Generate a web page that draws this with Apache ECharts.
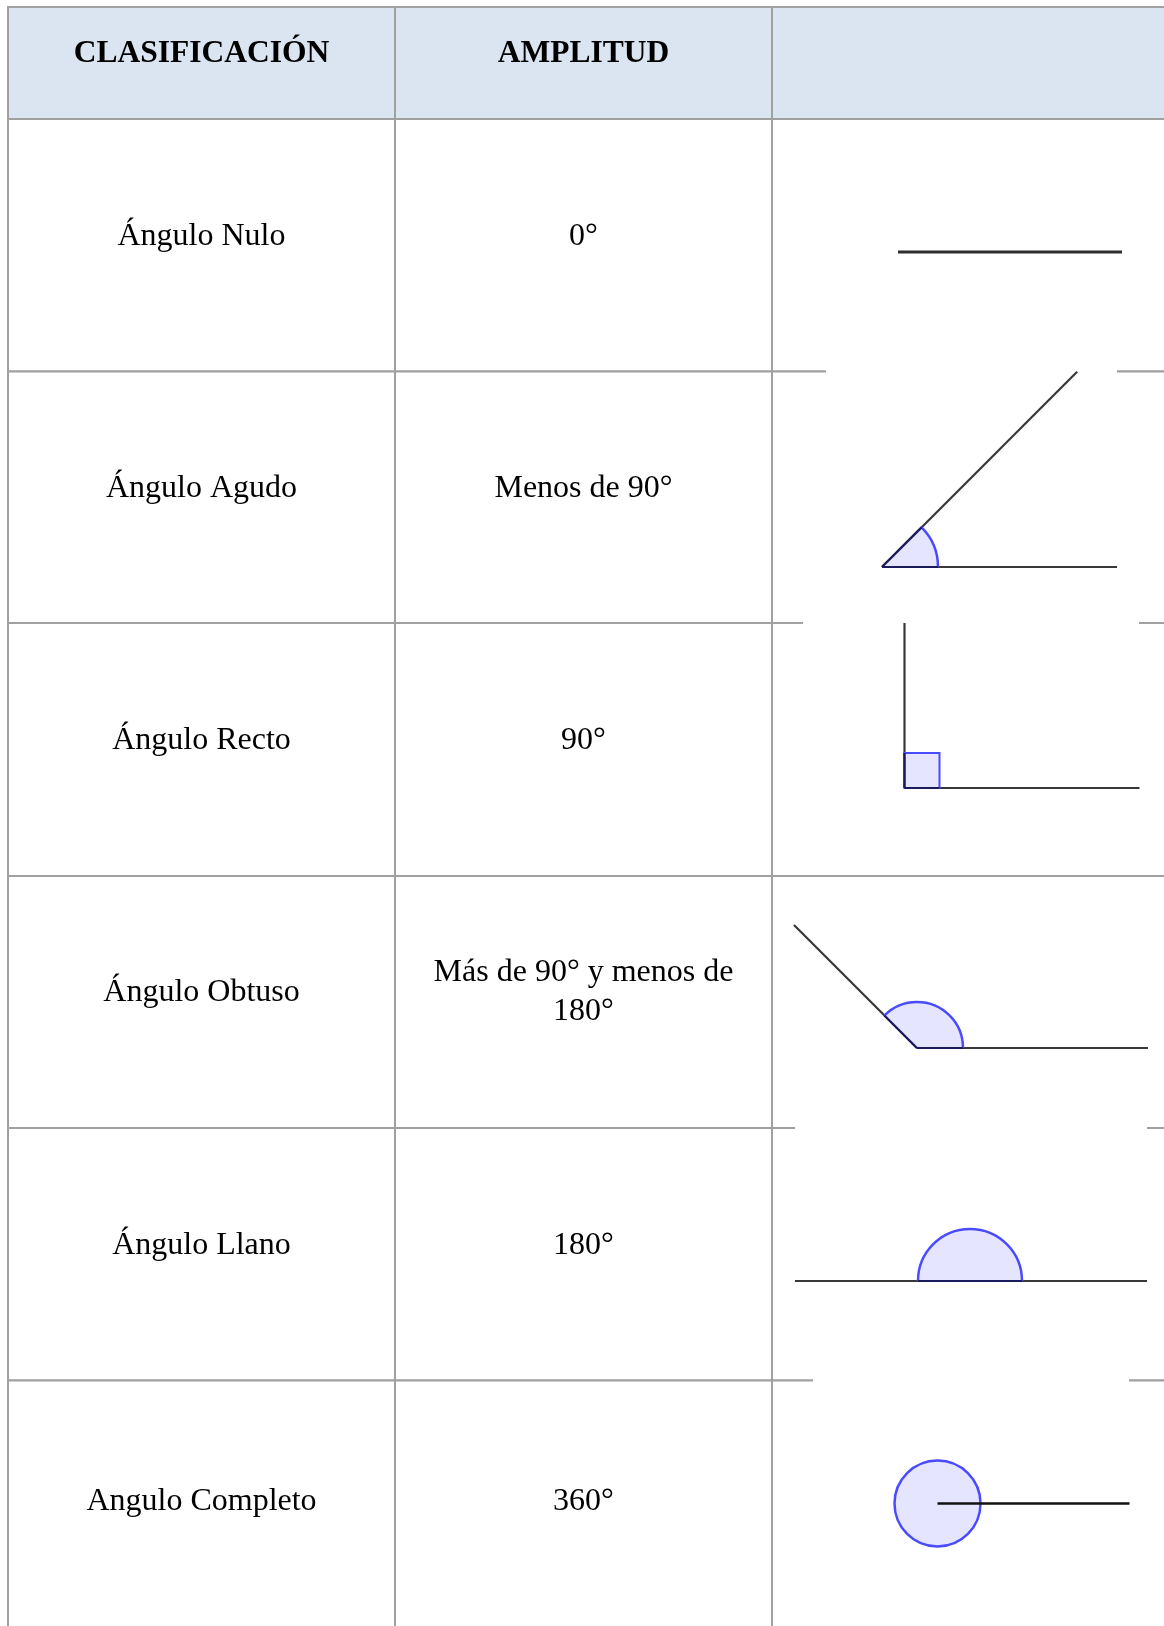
<!DOCTYPE html>
<html>
<head>
<meta charset="utf-8">
<script src="https://cdn.jsdelivr.net/npm/echarts@6/dist/echarts.min.js"></script>
<style>
  html, body { margin: 0; padding: 0; background: #fff; }
  #chart { width: 1164px; height: 1626px; }
</style>
</head>
<body>
<div id="chart"></div>
<script>
// datos de la tabla
var encabezados = ['CLASIFICACIÓN', 'AMPLITUD', ''];
var clasificaciones = ['Ángulo Nulo', 'Ángulo Agudo', 'Ángulo Recto', 'Ángulo Obtuso', 'Ángulo Llano', 'Angulo Completo'];
var amplitudes = ['0°', 'Menos de 90°', '90°', 'Más de 90° y menos de\n180°', '180°', '360°'];
var angulos = [0, 45, 90, 135, 180, 360];

// maquetación (px)
var colX = [8, 395, 772, 1200];
var rowY = [7, 119, 371.5, 623, 876, 1128, 1380.5, 1640];
var dibujos = [
    {vx: 898, vy: 252, len: 224, len2: 224, r: 0, img: null},
    {vx: 882, vy: 567, len: 235, len2: 276, r: 56, img: [826, 1117]},
    {vx: 904.5, vy: 788, len: 235, len2: 165, r: 35, img: [803, 1139]},
    {vx: 917, vy: 1048, len: 231, len2: 174, r: 46, img: null},
    {vx: 970, vy: 1281, len: 177, len2: 175, r: 52, img: [795, 1147]},
    {vx: 937.5, vy: 1503.5, len: 192, len2: 0, r: 43, img: [813, 1129]}
];

var celdas = [];
for (var f = 0; f < rowY.length - 1; f++) {
    for (var c = 0; c < 3; c++) celdas.push([c, f]);
}

function celda(params, api) {
    var c = api.value(0), f = api.value(1);
    var p0 = api.coord([colX[c], rowY[f]]);
    var p1 = api.coord([colX[c + 1], rowY[f + 1]]);
    var texto = f === 0 ? encabezados[c] : (c === 0 ? clasificaciones[f - 1] : (c === 1 ? amplitudes[f - 1] : ''));
    var lineas = texto.split('\n').length;
    return {
        type: 'group',
        children: [
            {
                type: 'rect',
                shape: {x: p0[0], y: p0[1], width: p1[0] - p0[0], height: p1[1] - p0[1]},
                style: {fill: f === 0 ? '#dbe5f1' : '#fff', stroke: '#a0a0a0', lineWidth: 2}
            },
            {
                type: 'text',
                style: {
                    text: texto,
                    x: (p0[0] + p1[0]) / 2,
                    y: (p0[1] + p1[1]) / 2 - 9 - 1 * (lineas - 1),
                    align: 'center',
                    verticalAlign: 'middle',
                    fill: '#000',
                    lineHeight: 39,
                    font: f === 0 ? 'bold 31.5px "Liberation Serif"' : '32px "Liberation Serif"'
                }
            }
        ]
    };
}

var GRIS = '#383838', AZUL = '#4a4aff', RELLENO = '#e5e5ff', MARINO = '#1a1a5c';

function dibujo(params, api) {
    var i = api.value(0), ang = api.value(1), d = dibujos[i];
    var rad = ang * Math.PI / 180;
    function pt(dx, dy) { return api.coord([d.vx + dx, d.vy - dy]); }
    function linea(a, b, color, w) {
        return {type: 'line', shape: {x1: a[0], y1: a[1], x2: b[0], y2: b[1]}, style: {stroke: color, lineWidth: w}};
    }
    var V = pt(0, 0);
    var r = api.size([d.r, 0])[0];
    var hijos = [];
    if (d.img) {
        var a = api.coord([d.img[0], rowY[i + 1] - 2]);
        var b = api.coord([d.img[1], rowY[i + 1] + 2]);
        hijos.push({type: 'rect', shape: {x: a[0], y: a[1], width: b[0] - a[0], height: b[1] - a[1]}, style: {fill: '#fff'}});
    }
    var fin1 = pt(d.len, 0);
    if (ang === 0) {
        hijos.push(linea(V, fin1, '#2e2e2e', 3));
    } else if (ang === 360) {
        hijos.push({type: 'circle', shape: {cx: V[0], cy: V[1], r: r}, style: {fill: RELLENO, stroke: AZUL, lineWidth: 2.5}});
        hijos.push(linea(V, fin1, '#111', 2.5));
    } else {
        var fin2 = pt(d.len2 * Math.cos(rad), d.len2 * Math.sin(rad));
        hijos.push(linea(V, fin1, GRIS, 2.2));
        hijos.push(linea(V, fin2, GRIS, 2.2));
        if (ang === 90) {
            var q = api.size([d.r, d.r]);
            hijos.push({type: 'rect', shape: {x: V[0], y: V[1] - q[1], width: q[0], height: q[1]},
                style: {fill: RELLENO, stroke: AZUL, lineWidth: 2}});
        } else {
            hijos.push({type: 'sector', shape: {cx: V[0], cy: V[1], r0: 0, r: r, startAngle: -rad, endAngle: 0, clockwise: true},
                style: {fill: RELLENO}});
            hijos.push({type: 'arc', shape: {cx: V[0], cy: V[1], r: r, startAngle: -rad, endAngle: 0, clockwise: true},
                style: {stroke: AZUL, lineWidth: 2.5, fill: null}});
        }
        hijos.push(linea(V, pt(d.r, 0), MARINO, 2.2));
        hijos.push(linea(V, pt(d.r * Math.cos(rad), d.r * Math.sin(rad)), MARINO, 2.2));
        if (ang === 180) hijos.push(linea(V, pt(-d.r, 0), MARINO, 2.2));
    }
    return {type: 'group', children: hijos};
}

var chart = echarts.init(document.getElementById('chart'), null, {renderer: 'canvas'});
var option = {
    backgroundColor: '#fff',
    animation: false,
    grid: {left: 0, right: 0, top: 0, bottom: 0},
    xAxis: {type: 'value', min: 0, max: 1164, show: false},
    yAxis: {type: 'value', min: 0, max: 1626, inverse: true, show: false},
    series: [
        {
            type: 'custom',
            name: 'tabla',
            z: 1,
            clip: true,
            renderItem: celda,
            data: celdas
        },
        {
            type: 'custom',
            name: 'angulos',
            z: 2,
            clip: true,
            renderItem: dibujo,
            data: angulos.map(function (a, i) { return [i, a]; })
        }
    ]
};
chart.setOption(option);
</script>
</body>
</html>
